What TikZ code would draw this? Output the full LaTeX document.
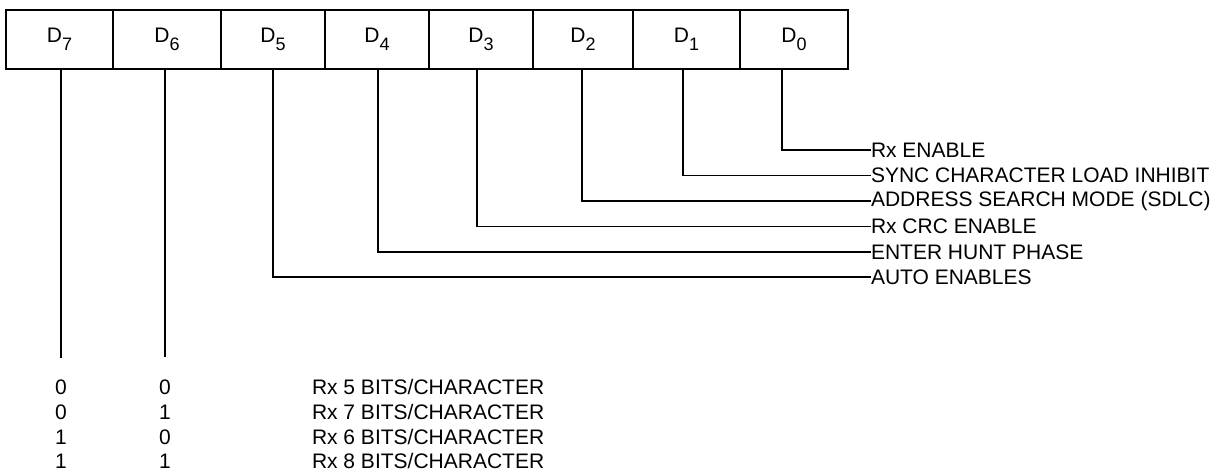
\documentclass[tikz,border=0pt]{standalone}
\usepackage{fontspec}
\setmainfont{Liberation Sans}
\newcommand\regl[1]{\fontsize{21}{24}\selectfont D\raisebox{-0.36em}{\fontsize{18}{20}\selectfont #1}}
\begin{document}
\begin{tikzpicture}[x=1pt,y=-1pt,
  regbox/.style={draw,line width=1.3pt,minimum height=59pt,anchor=north west,inner sep=0pt,outer sep=0pt},
  lbl/.style={anchor=west,inner sep=0pt,outer sep=0pt,font=\fontsize{21}{24}\selectfont},
  tbl/.style={anchor=center,inner sep=0pt,font=\fontsize{21}{24}\selectfont},
  conn/.style={line width=1.5pt}]
\useasboundingbox (0,0) rectangle (1220,474);
% register boxes
\node[regbox,minimum width=107pt] (b7) at (6,10) {\regl{7}};
\node[regbox,minimum width=108pt] (b6) at (113,10) {\regl{6}};
\node[regbox,minimum width=104pt] (b5) at (221,10) {\regl{5}};
\node[regbox,minimum width=104pt] (b4) at (325,10) {\regl{4}};
\node[regbox,minimum width=104pt] (b3) at (429,10) {\regl{3}};
\node[regbox,minimum width=100pt] (b2) at (533,10) {\regl{2}};
\node[regbox,minimum width=107pt] (b1) at (633,10) {\regl{1}};
\node[regbox,minimum width=108pt] (b0) at (740,10) {\regl{0}};
% tap points
\coordinate (t7) at (61,69);
\coordinate (t6) at (165,69);
\coordinate (t5) at (273,69);
\coordinate (t4) at (378,69);
\coordinate (t3) at (477,69);
\coordinate (t2) at (582,69);
\coordinate (t1) at (683,69);
\coordinate (t0) at (782,69);
% labels
\node[lbl] (l0) at (871,150) {Rx ENABLE};
\node[lbl] (l1) at (871,175.5) {SYNC CHARACTER LOAD INHIBIT};
\node[lbl] (l2) at (871,201) {ADDRESS SEARCH MODE (SDLC)};
\node[lbl] (l3) at (871,226.5) {Rx CRC ENABLE};
\node[lbl] (l4) at (871,252) {ENTER HUNT PHASE};
\node[lbl] (l5) at (871,277) {AUTO ENABLES};
\draw[conn] (t0) |- (l0.west);
\draw[conn] (t1) |- (l1.west);
\draw[conn] (t2) |- (l2.west);
\draw[conn] (t3) |- (l3.west);
\draw[conn] (t4) |- (l4.west);
\draw[conn] (t5) |- (l5.west);
% D7, D6 lines
\coordinate (e7) at (61,358);
\coordinate (e6) at (165,357);
\draw[conn] (t7) -- (e7);
\draw[conn] (t6) -- (e6);
% table
\node[tbl] (a1) at (61,387) {0};
\node[tbl] (a2) at (61,412) {0};
\node[tbl] (a3) at (61,437) {1};
\node[tbl] (a4) at (61,461) {1};
\node[tbl] (c1) at (165,387) {0};
\node[tbl] (c2) at (165,412) {1};
\node[tbl] (c3) at (165,437) {0};
\node[tbl] (c4) at (165,461) {1};
\node[lbl] (r1) at (312,387) {Rx 5 BITS/CHARACTER};
\node[lbl] (r2) at (312,412) {Rx 7 BITS/CHARACTER};
\node[lbl] (r3) at (312,437) {Rx 6 BITS/CHARACTER};
\node[lbl] (r4) at (312,461) {Rx 8 BITS/CHARACTER};
\end{tikzpicture}
\end{document}
